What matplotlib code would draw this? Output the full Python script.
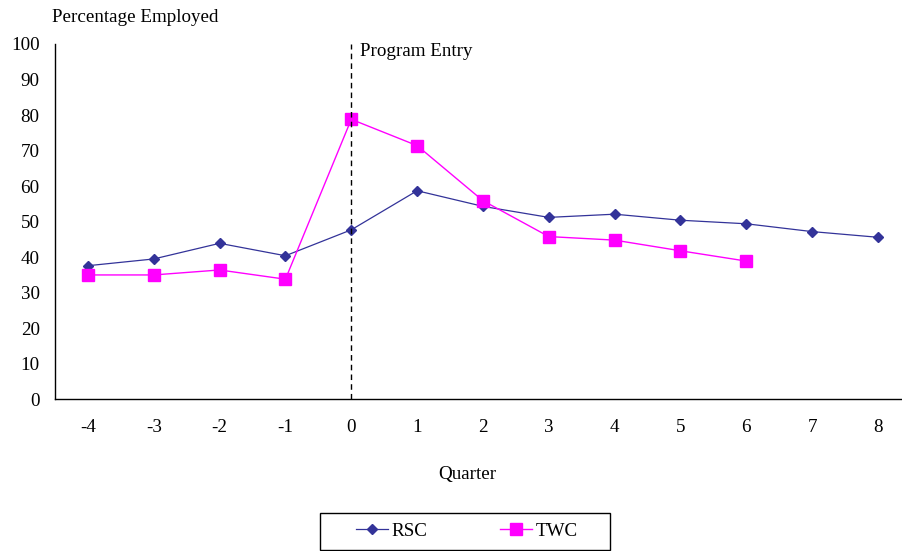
import matplotlib.pyplot as plt
from matplotlib.patches import Rectangle

plt.rcParams['font.family'] = ['Liberation Serif', 'DejaVu Serif']

quarters = [-4, -3, -2, -1, 0, 1, 2, 3, 4, 5, 6, 7, 8]
rsc = [37.6, 39.5, 43.9, 40.4, 47.7, 58.7, 54.3, 51.2, 52.1, 50.4, 49.4, 47.2, 45.6]
twc_quarters = [-4, -3, -2, -1, 0, 1, 2, 3, 4, 5, 6]
twc = [35.0, 35.0, 36.4, 33.8, 78.8, 71.4, 55.9, 45.8, 44.8, 41.8, 38.9]
yticks = [0, 10, 20, 30, 40, 50, 60, 70, 80, 90, 100]

FS = 13.7
W, H = 903, 551

fig = plt.figure(figsize=(9.03, 5.51), dpi=100)
ax = fig.add_axes([55 / W, 1 - 399.3 / H, 1 - 55 / W, (399.3 - 44) / H])

ax.plot(quarters, rsc, color='#333399', lw=0.9, marker='D', ms=5.6,
        markeredgecolor='#333399', markerfacecolor='#333399', label='RSC')
ax.plot(twc_quarters, twc, color='#FF00FF', lw=1, marker='s', ms=8.2,
        markeredgecolor='#FF00FF', markerfacecolor='#FF00FF', label='TWC')

# program entry marker
ax.plot([0, 0], [0, 100], color='black', lw=1, ls=(0, (4, 3)))
ax.text(0.13, 97.8, 'Program Entry', fontsize=FS, va='center', ha='left')

ax.set_xlim(-4.5, 8.38)
ax.set_ylim(0, 100)
ax.set_xticks(quarters)
ax.set_xticklabels([str(q) for q in quarters], fontsize=FS)
ax.set_yticks(yticks)
ax.set_yticklabels([str(v) for v in yticks], fontsize=FS)
ax.tick_params(axis='both', length=0)
ax.tick_params(axis='x', pad=14)
ax.tick_params(axis='y', pad=11)

for side in ['top', 'right']:
    ax.spines[side].set_visible(False)
ax.spines['left'].set_linewidth(1)
ax.spines['bottom'].set_linewidth(1)

fig.text(52 / W, 1 - 18 / H, 'Percentage Employed', fontsize=FS, va='center', ha='left')
fig.text(467 / W, 1 - 475 / H, 'Quarter', fontsize=FS, va='center', ha='center')

# legend box drawn separately so its padding can be wide
fig.patches.append(Rectangle((320 / W, 1 - 550 / H), 290 / W, 37 / H,
                             transform=fig.transFigure, fill=False,
                             edgecolor='black', lw=1))
leg = fig.legend(loc='center', bbox_to_anchor=(467 / W, 1 - 531 / H), ncol=2,
                 fontsize=FS, frameon=False,
                 handlelength=1.7, handletextpad=0.2, columnspacing=3.8)

fig.savefig('out.png', dpi=100)
